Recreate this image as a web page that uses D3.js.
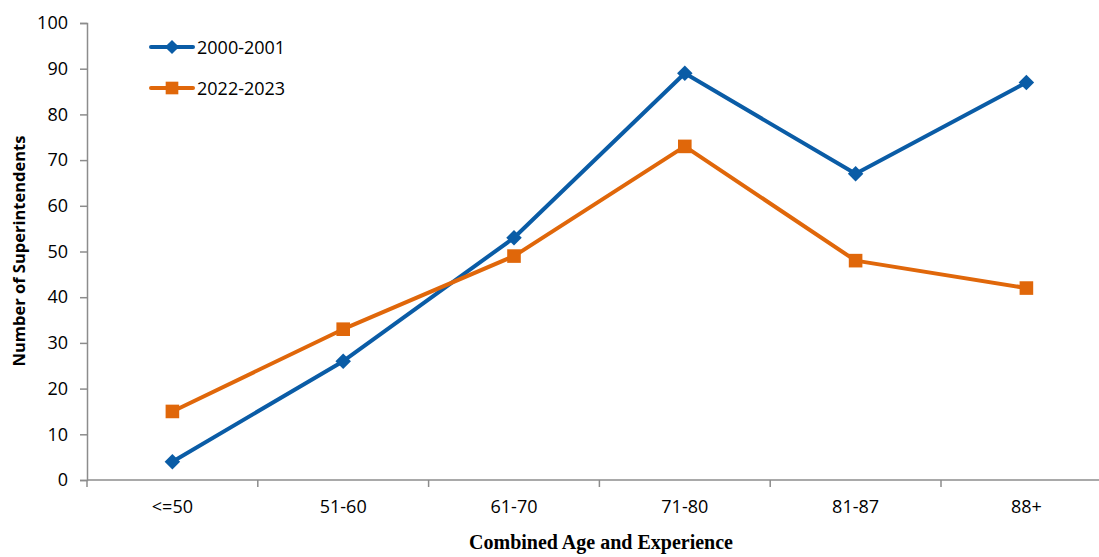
<!DOCTYPE html>
<html><head><meta charset="utf-8">
<script src="https://cdn.jsdelivr.net/npm/d3@7"></script>
<style>body{margin:0;background:#fff}svg{display:block}</style>
</head><body>
<svg id="c" width="1099" height="557"></svg>
<script>
const categories = ["<=50","51-60","61-70","71-80","81-87","88+"];
const series2000 = [4,26,53,89,67,87];
const series2022 = [15,33,49,73,48,42];
const seriesNames = ["2000-2001","2022-2023"];
const yTicks = [0,10,20,30,40,50,60,70,80,90,100];

(function(){
const svg = d3.select("#c");
const mLeft = 87, mTop = 23, mBottom = 480, bandW = 170.8;
const x = d3.scaleBand().domain(categories).range([mLeft, mLeft + bandW*categories.length]);
const y = d3.scaleLinear().domain([0,100]).range([mBottom, mTop]);
const font = "'Open Sans', Lato, sans-serif";
const axisColor = "#8c8c8c";

// y axis
const ya = svg.append("g").attr("transform",`translate(${mLeft},0)`)
  .call(d3.axisLeft(y).tickValues(yTicks).tickSize(7).tickPadding(12));
ya.select(".domain").attr("stroke",axisColor).attr("stroke-width",1.5);
ya.selectAll(".tick line").attr("stroke",axisColor).attr("stroke-width",1.5);
ya.selectAll(".tick text").attr("font-family",font).attr("font-size",18).attr("fill","#000");

// x axis
const xa = svg.append("g").attr("transform",`translate(0,${mBottom})`)
  .call(d3.axisBottom(x).tickSize(0).tickPadding(20));
xa.select(".domain").remove();
xa.append("line").attr("x1",mLeft).attr("x2",1099).attr("y1",0).attr("y2",0)
  .attr("stroke",axisColor).attr("stroke-width",1.5);
const bounds = d3.range(categories.length+1).map(i => mLeft + i*x.step());
xa.selectAll(".xt").data(bounds).enter().append("line")
  .attr("x1",d=>d).attr("x2",d=>d).attr("y1",0).attr("y2",7)
  .attr("stroke",axisColor).attr("stroke-width",1.5);
xa.selectAll(".tick text").attr("font-family",font).attr("font-size",18).attr("fill","#000");

// titles
svg.append("text").attr("x",601).attr("y",549).attr("text-anchor","middle")
  .attr("font-family","'Liberation Serif', serif").attr("font-weight","bold").attr("font-size",20)
  .text("Combined Age and Experience");
svg.append("text").attr("transform","translate(25,251) rotate(-90)").attr("text-anchor","middle")
  .attr("font-family",font).attr("font-weight","bold").attr("font-size",16.5)
  .text("Number of Superintendents");

const colors = ["#0a5ca6","#e0670a"];
const cx = d => x(d) + x.bandwidth()/2;
const line = d3.line().x((d,i)=>cx(categories[i])).y(d=>y(d));

[series2000, series2022].forEach((s,k)=>{
  svg.append("path").datum(s).attr("d",line).attr("fill","none")
    .attr("stroke",colors[k]).attr("stroke-width",4).attr("stroke-linejoin","round");
  svg.selectAll(".m"+k).data(s).enter().append("path")
    .attr("d", k===0 ? d3.symbol().type(d3.symbolSquare).size(120)() : d3.symbol().type(d3.symbolSquare).size(185)())
    .attr("transform",(d,i)=>`translate(${cx(categories[i])},${y(d)})` + (k===0?" rotate(45)":""))
    .attr("fill",colors[k]);
});

// legend
seriesNames.forEach((n,k)=>{
  const ly = 47 + k*41;
  svg.append("line").attr("x1",151).attr("x2",193).attr("y1",ly).attr("y2",ly)
    .attr("stroke",colors[k]).attr("stroke-width",4).attr("stroke-linecap","round");
  svg.append("path").attr("d", k===0 ? d3.symbol().type(d3.symbolSquare).size(100)() : d3.symbol().type(d3.symbolSquare).size(160)())
    .attr("transform",`translate(172,${ly})` + (k===0?" rotate(45)":"")).attr("fill",colors[k]);
  svg.append("text").attr("x",197).attr("y",ly+6.5).attr("font-family",font).attr("font-size",18)
    .attr("fill","#000").text(n);
});
})();
</script>
</body></html>
